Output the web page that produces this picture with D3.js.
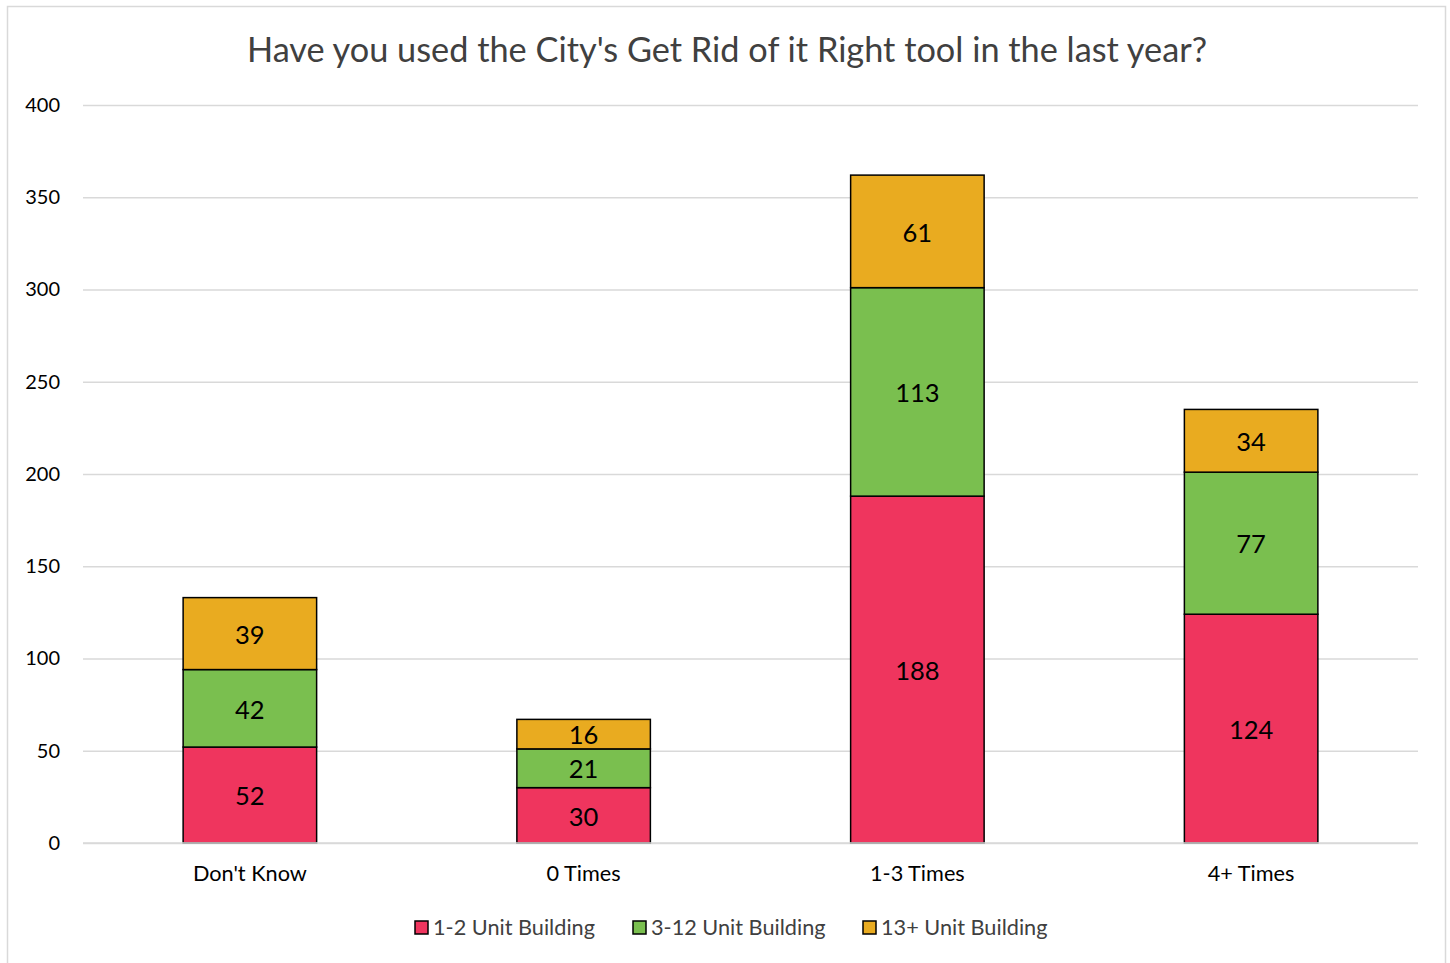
<!DOCTYPE html>
<html>
<head>
<meta charset="utf-8">
<script src="https://cdn.jsdelivr.net/npm/d3@7.9.0/dist/d3.min.js"></script>
<style>
  body { margin: 0; background: #fff; }
  svg { display: block; font-family: Lato, "Open Sans", sans-serif; }
</style>
</head>
<body>
<svg id="chart" width="1450" height="963"></svg>
<script>
// data
const categories = ["Don't Know", "0 Times", "1-3 Times", "4+ Times"];
const seriesNames = ["1-2 Unit Building", "3-12 Unit Building", "13+ Unit Building"];
const unit12 = [52, 30, 188, 124];
const unit312 = [42, 21, 113, 77];
const unit13 = [39, 16, 61, 34];
const yTicks = [0, 50, 100, 150, 200, 250, 300, 350, 400];
const colors = ['#EF355E', '#7ABF4F', '#E9AB20'];

const svg = d3.select('#chart');

// outer frame
svg.append('rect')
  .attr('x', 7.5).attr('y', 6.5)
  .attr('width', 1438).attr('height', 970)
  .attr('fill', 'none').attr('stroke', '#d9d9d9').attr('stroke-width', 1.5);

const margin = { left: 83, right: 1418, top: 105, bottom: 843 };

const x = d3.scaleBand()
  .domain(categories)
  .range([margin.left, margin.right])
  .paddingInner(0.6)
  .paddingOuter(0.3);

const y = d3.scaleLinear().domain([0, 400]).range([margin.bottom, margin.top]);

// title
svg.append('text')
  .attr('x', 727).attr('y', 62)
  .attr('text-anchor', 'middle')
  .attr('font-size', 34.3)
  .attr('fill', '#404040')
  .text("Have you used the City's Get Rid of it Right tool in the last year?");

// gridlines + y labels
const yAxis = d3.axisLeft(y).tickValues(yTicks).tickSize(-(margin.right - margin.left)).tickPadding(23);
const gy = svg.append('g').attr('transform', `translate(${margin.left},0)`).call(yAxis);
gy.select('.domain').remove();
gy.selectAll('.tick line').attr('stroke', '#d9d9d9').attr('stroke-width', 1.5);
gy.selectAll('.tick text').attr('font-size', 20).attr('fill', '#000')
  .attr('font-family', 'Lato, "Open Sans", sans-serif');

// stacked bars
const rows = categories.map((c, i) => ({ cat: c, s0: unit12[i], s1: unit312[i], s2: unit13[i] }));
const stack = d3.stack().keys(['s0', 's1', 's2'])(rows);

const layers = svg.append('g').selectAll('g')
  .data(stack)
  .join('g')
  .attr('fill', (d, i) => colors[i]);

layers.selectAll('rect')
  .data(d => d)
  .join('rect')
  .attr('x', d => x(d.data.cat))
  .attr('y', d => y(d[1]))
  .attr('width', x.bandwidth())
  .attr('height', d => y(d[0]) - y(d[1]))
  .attr('stroke', '#000')
  .attr('stroke-width', 1.5);

// data labels
layers.selectAll('text')
  .data(d => d)
  .join('text')
  .attr('x', d => x(d.data.cat) + x.bandwidth() / 2)
  .attr('y', d => (y(d[0]) + y(d[1])) / 2)
  .attr('dy', '0.4em')
  .attr('text-anchor', 'middle')
  .attr('font-size', 25.5)
  .attr('fill', '#000')
  .text(d => d[1] - d[0]);

// x axis baseline
svg.append('line')
  .attr('x1', margin.left).attr('x2', margin.right)
  .attr('y1', margin.bottom).attr('y2', margin.bottom)
  .attr('stroke', '#d9d9d9').attr('stroke-width', 1.5);

// category labels
svg.append('g').selectAll('text')
  .data(categories)
  .join('text')
  .attr('x', d => x(d) + x.bandwidth() / 2)
  .attr('y', 881)
  .attr('text-anchor', 'middle')
  .attr('font-size', 21.7)
  .attr('fill', '#000')
  .text(d => d);

// legend
const legendX = [415, 633, 863];
const legend = svg.append('g').selectAll('g')
  .data(seriesNames)
  .join('g')
  .attr('transform', (d, i) => `translate(${legendX[i]},921)`);

legend.append('rect')
  .attr('width', 13).attr('height', 13)
  .attr('fill', (d, i) => colors[i])
  .attr('stroke', '#000').attr('stroke-width', 1.5);

legend.append('text')
  .attr('x', 18).attr('y', 14)
  .attr('font-size', 21.7)
  .attr('fill', '#404040')
  .text(d => d);
</script>
</body>
</html>
